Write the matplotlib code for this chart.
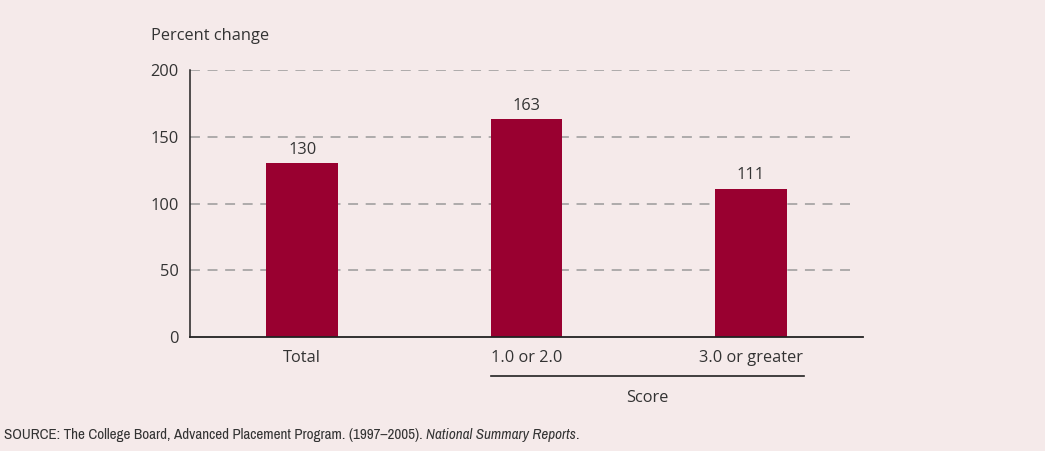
import matplotlib
matplotlib.use("Agg")
import matplotlib.pyplot as plt
from matplotlib import font_manager

categories = ["Total", "1.0 or 2.0", "3.0 or greater"]
values = [130, 163, 111]
yticks = [0, 50, 100, 150, 200]
ylabel = "Percent change"
group_label = "Score"
source_plain = "SOURCE: The College Board, Advanced Placement Program. (1997\u20132005). "
source_italic = "National Summary Reports"
source_end = "."

BG = "#F5EAEA"
BAR = "#990030"
TXT = "#333333"
GRID = "#9a9a9a"

names = sorted({f.name for f in font_manager.fontManager.ttflist})
main_font = "Open Sans" if "Open Sans" in names else "DejaVu Sans"
narrow_candidates = [n for n in names if ("Narrow" in n or "Condensed" in n)]
narrow_font = narrow_candidates[0] if narrow_candidates else main_font
plt.rcParams["font.family"] = [main_font, "DejaVu Sans"]

FS = 11.8
W, H = 1045, 451
fig = plt.figure(figsize=(W / 100, H / 100), dpi=100, facecolor=BG)

x0, x1 = 190, 863
y0, y1 = 337, 70
ax = fig.add_axes([x0 / W, 1 - y0 / H, (x1 - x0) / W, (y0 - y1) / H])
ax.set_facecolor("none")

pos = list(range(len(categories)))
ax.set_xlim(-0.5, 2.5)
ax.set_ylim(0, 200)

for yv in yticks[1:]:
    ax.axhline(yv, xmin=0, xmax=(855 - x0) / (x1 - x0), color=GRID, lw=1.1,
               linestyle=(0, (6.5, 5)), zorder=1)

ax.bar(pos, values, width=0.32, color=BAR, zorder=2)
for p, v in zip(pos, values):
    ax.text(p, v + 4.0, f"{v}", ha="center", va="bottom", fontsize=FS, color=TXT)

for s in ["top", "right"]:
    ax.spines[s].set_visible(False)
ax.spines["left"].set_color("#222222")
ax.spines["bottom"].set_color("#222222")
ax.spines["left"].set_linewidth(1.1)
ax.spines["bottom"].set_linewidth(1.3)

ax.set_yticks(yticks)
ax.set_yticklabels([str(t) for t in yticks], fontsize=FS, color=TXT)
ax.tick_params(axis="y", length=0, pad=8)
ax.set_xticks(pos)
ax.set_xticklabels(categories, fontsize=FS, color=TXT)
ax.tick_params(axis="x", length=0, pad=9)

# y-axis title
fig.text(151 / W, 1 - 36 / H, ylabel, ha="left", va="center", fontsize=FS, color=TXT)

# group bracket under score categories
ax.plot([0.842, 2.236], [-29, -29], color="#222222", lw=1.2, clip_on=False)
fig.text(647 / W, 1 - 398 / H, group_label, ha="center", va="center", fontsize=FS, color=TXT)

# source note, sized to span the same width as in the reference
fig.canvas.draw()
r = fig.canvas.get_renderer()
ys = 1 - 435 / H
target_w = 578


def draw_source(fs):
    fam = [narrow_font, "DejaVu Sans"]
    t1 = fig.text(4 / W, ys, source_plain, ha="left", va="center", fontsize=fs,
                  color=TXT, family=fam)
    bb = t1.get_window_extent(r)
    t2 = fig.text(bb.x1 / W, ys, source_italic, ha="left", va="center", fontsize=fs,
                  color=TXT, style="italic", family=fam)
    bb2 = t2.get_window_extent(r)
    t3 = fig.text(bb2.x1 / W, ys, source_end, ha="left", va="center", fontsize=fs,
                  color=TXT, family=fam)
    return [t1, t2, t3], t3.get_window_extent(r).x1 - 4


texts, w = draw_source(10.5)
fs2 = 10.5 * target_w / w
for t in texts:
    t.remove()
draw_source(fs2)

fig.savefig("out.png", dpi=100, facecolor=BG)
